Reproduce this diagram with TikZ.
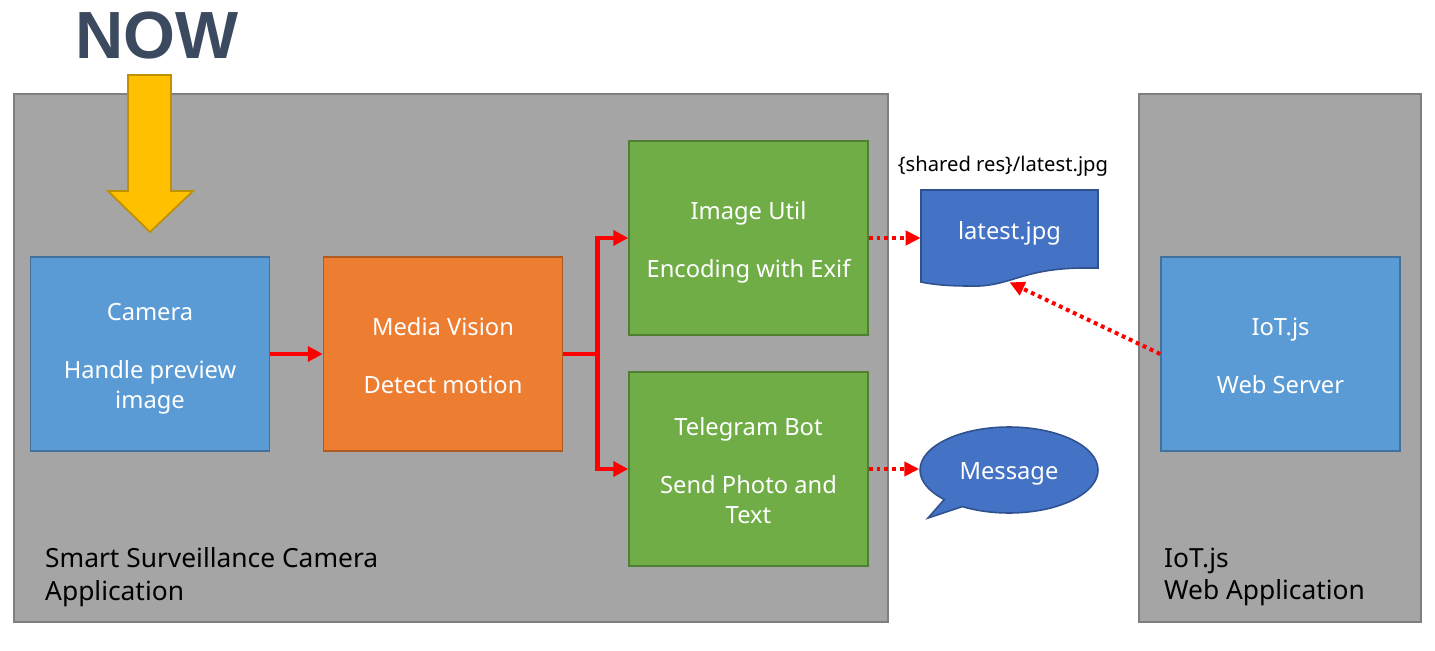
\documentclass[tikz,border=0pt]{standalone}
\usepackage{fontspec}
\setmainfont{Noto Sans}
\newfontfamily\nowfont{Liberation Sans}
\usetikzlibrary{arrows.meta, positioning, calc, shapes.callouts}
\definecolor{panelgray}{HTML}{A5A5A5}
\definecolor{panelline}{HTML}{7F7F7F}
\definecolor{camblue}{HTML}{5B9BD5}
\definecolor{camline}{HTML}{41719C}
\definecolor{visorange}{HTML}{ED7D31}
\definecolor{visline}{HTML}{AE5A21}
\definecolor{utilgreen}{HTML}{70AD47}
\definecolor{utilline}{HTML}{507E32}
\definecolor{resblue}{HTML}{4472C4}
\definecolor{resline}{HTML}{2F528F}
\definecolor{nowyellow}{HTML}{FFC000}
\definecolor{nowline}{HTML}{BF9000}
\definecolor{nowdark}{HTML}{3B4A5E}
\definecolor{flowred}{HTML}{FF0000}
\newcommand{\topgap}{\rule{0pt}{15pt}}
\newcommand{\botgap}{\rule[-3.3pt]{0pt}{0pt}}
\tikzset{
  panel/.style={draw=panelline, fill=panelgray, line width=1.1pt},
  paneltext/.style={anchor=west, align=left, font=\fontsize{15}{18.7}\selectfont},
  block/.style={line width=0.9pt, text=white, minimum width=4.78cm, minimum height=3.88cm, align=center,
    font=\fontsize{13.5}{16.7}\selectfont},
  flow/.style={flowred, line width=2.8pt, -{Triangle[length=8.5pt, width=8.5pt]}},
  share/.style={flowred, line width=2.3pt, dash pattern=on 2.2pt off 2.2pt, -{Triangle[length=8.5pt, width=8pt]}},
}

\begin{document}
\begin{tikzpicture}[x=0.02cm, y=-0.02cm]
  \useasboundingbox (0,0) rectangle (1435,651);

  % Panels
  \node[panel, minimum width=17.48cm, minimum height=10.56cm] (camapp) at (451,358) {};
  \node[panel, minimum width=5.64cm, minimum height=10.56cm] (webapp) at (1280,358) {};
  \node[paneltext] (camlabel) at (39,577) {Smart Surveillance Camera\\Application};
  \node[paneltext] (weblabel) at (1158,577) {IoT.js\\Web Application};

  % Now marker
  \node[font=\nowfont\fontsize{38}{42}\selectfont\bfseries, text=nowdark] (now) at (157,36) {NOW};
  \draw[fill=nowyellow, draw=nowline, line width=1pt] (128,75) -- (171,75) -- (171,191) -- (193,191) -- (150,232) -- (108,191) -- (128,191) -- cycle;

  % Blocks
  \node[block, draw=camline, fill=camblue] (camera) at (150,354) {\topgap Camera\\[16.5pt]Handle preview\\image\botgap};
  \node[block, draw=visline, fill=visorange] (vision) at (443,354) {\topgap Media Vision\\[16.5pt]Detect motion\botgap};
  \node[block, draw=utilline, fill=utilgreen] (imgutil) at (748.5,238) {\topgap Image Util\\[16.5pt]Encoding with Exif\botgap};
  \node[block, draw=utilline, fill=utilgreen] (telegram) at (748.5,469) {\topgap Telegram Bot\\[16.5pt]Send Photo and\\Text\botgap};
  \node[block, draw=camline, fill=camblue] (iotjs) at (1280.5,354) {\topgap IoT.js\\[16.5pt]Web Server\botgap};

  % Shared resource
  \node[font=\fontsize{11.5}{14}\selectfont] (respath) at (1003,166) {\{shared res\}/latest.jpg};
  \draw[fill=resblue, draw=resline, line width=0.9pt] (921,190) -- (1098,190) -- (1098,268) -- (1085,268)
    .. controls (1020,268) and (1010,288) .. (968,286) .. controls (945,286) and (930,284) .. (921,282) -- cycle;
  \node[text=white, minimum width=3.54cm, minimum height=1.84cm, font=\fontsize{13.5}{16.4}\selectfont] (latest) at (1009.5,236) {\raisebox{6pt}{latest.jpg}};
  \node[ellipse callout, callout absolute pointer={(928,518)}, draw=resline, fill=resblue, line width=0.9pt, text=white, inner sep=0pt, minimum width=3.56cm, minimum height=1.72cm, text height=14pt, text depth=3pt, font=\fontsize{13.5}{16.4}\selectfont] (msg) at (1009,470) {Message};

  % Flows
  \draw[flow] (camera) -- (vision);
  \coordinate (fork) at ($(vision.east)+(34,0)$);
  \draw[flowred, line width=2.8pt] (vision.east) -- (fork);
  \draw[flow] (fork) |- (imgutil.west);
  \draw[flow] (fork) |- (telegram.west);
  \draw[share] (imgutil.east) -- (imgutil.east -| latest.west);
  \draw[share] (telegram.east) -- (telegram.east -| msg.west);
  \draw[share] (iotjs.west) -- (latest.south);
\end{tikzpicture}
\end{document}
